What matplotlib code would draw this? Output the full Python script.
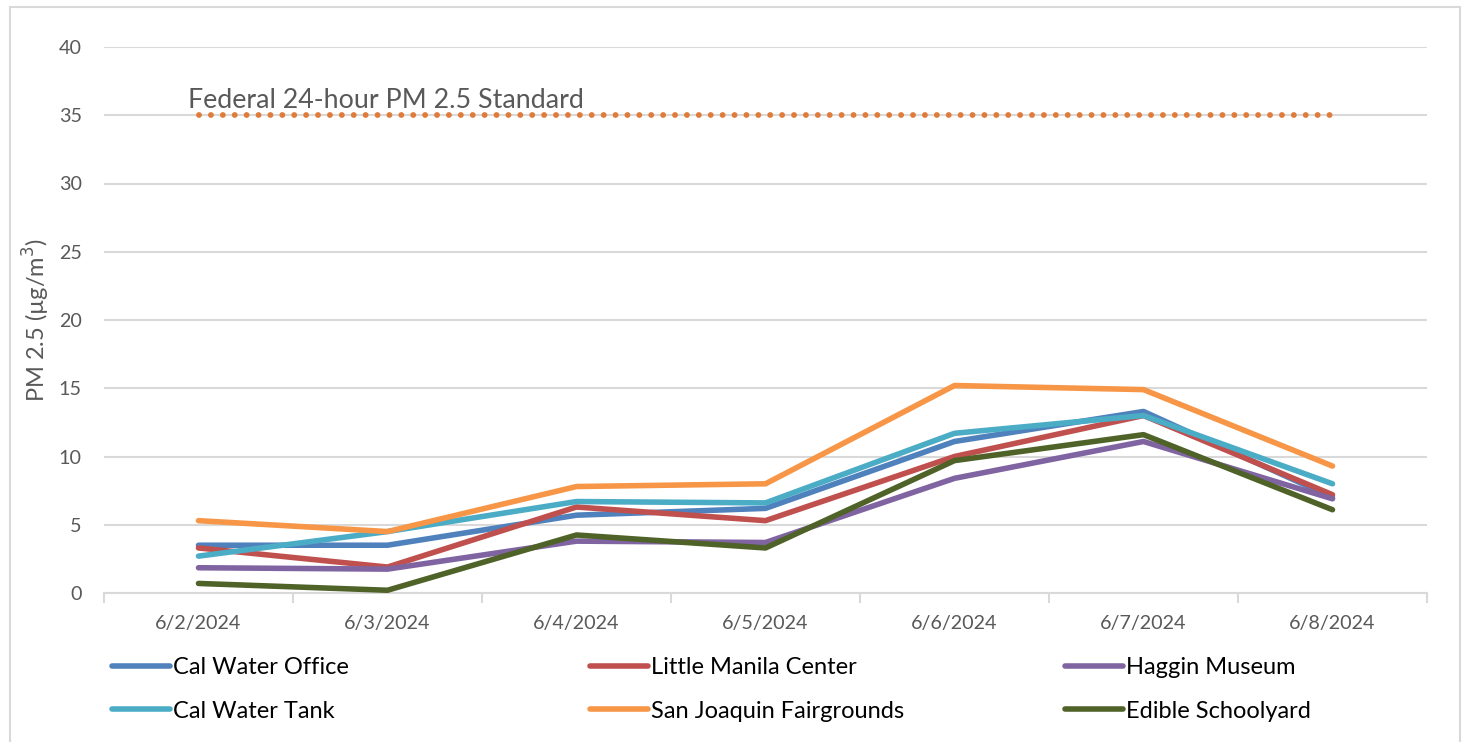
import numpy as np
import matplotlib
matplotlib.use("Agg")
import matplotlib.pyplot as plt
from matplotlib.patches import Rectangle

plt.rcParams["font.family"] = ["Lato", "DejaVu Sans"]

# data
dates = ["6/2/2024", "6/3/2024", "6/4/2024", "6/5/2024", "6/6/2024", "6/7/2024", "6/8/2024"]
cal_water_office = [3.5, 3.5, 5.7, 6.2, 11.1, 13.3, 7.0]
little_manila = [3.3, 1.9, 6.3, 5.3, 10.0, 13.0, 7.2]
haggin_museum = [1.85, 1.75, 3.8, 3.7, 8.4, 11.1, 6.9]
cal_water_tank = [2.7, 4.5, 6.7, 6.6, 11.7, 13.0, 8.0]
san_joaquin = [5.3, 4.5, 7.8, 8.0, 15.2, 14.9, 9.3]
edible_schoolyard = [0.7, 0.2, 4.25, 3.3, 9.7, 11.6, 6.1]
standard = [35, 35, 35, 35, 35, 35, 35]

names = ["Cal Water Office", "Little Manila Center", "Haggin Museum",
         "Cal Water Tank", "San Joaquin Fairgrounds", "Edible Schoolyard"]
series = [cal_water_office, little_manila, haggin_museum,
          cal_water_tank, san_joaquin, edible_schoolyard]
colours = ["#4F81BD", "#C0504D", "#8064A2", "#4BACC6", "#F79646", "#4F6228"]

grey = "#595959"
fig = plt.figure(figsize=(14.63, 7.42), dpi=100)
fig.patches.append(Rectangle((10 / 1463, -0.05), 1450 / 1463, 1.05 - 7 / 742,
                             transform=fig.transFigure, fill=False,
                             edgecolor="#D9D9D9", lw=1.5))
ax = fig.add_axes([104 / 1463, 1 - 593 / 742, 1323 / 1463, 546 / 742])

x = np.arange(len(dates))
handles = []
for vals, name, c in zip(series, names, colours):
    h, = ax.plot(x, vals, color=c, lw=4, solid_capstyle="round",
                 solid_joinstyle="round", label=name, zorder=3)
    handles.append(h)

ax.plot(x, standard, color="#E07B39", lw=4.2, linestyle=(0, (0.01, 2.03)),
        dash_capstyle="round", zorder=3)
ax.text(-0.056, 35.55, "Federal 24-hour PM 2.5 Standard", color=grey,
        fontsize=19.3, va="baseline", ha="left")

ax.set_xlim(-0.5, len(dates) - 0.5)
ax.set_ylim(0, 40)
ax.set_yticks(np.arange(0, 41, 5))
ax.grid(axis="y", color="#D9D9D9", lw=1.5)
ax.set_axisbelow(True)
for s in ["top", "right", "left"]:
    ax.spines[s].set_visible(False)
ax.spines["bottom"].set_color("#D9D9D9")
ax.spines["bottom"].set_linewidth(1.5)

ax.set_xticks(x)
ax.set_xticklabels(dates)
ax.set_xticks(np.arange(-0.5, len(dates)), minor=True)
ax.tick_params(axis="x", which="major", length=0, pad=16, labelsize=14.2, labelcolor=grey)
ax.tick_params(axis="x", which="minor", length=7, width=1.5, color="#D9D9D9")
ax.tick_params(axis="y", length=0, pad=16, labelsize=14.2, labelcolor=grey)

ax.set_ylabel("PM 2.5 (µg/m$^3$)", color=grey, fontsize=17)
ax.yaxis.set_label_coords(-(104 - 52) / 1323, (593 - 320) / 546)

# legend: three columns placed separately like the original
col_x = [112, 590, 1065]
for i, cx in enumerate(col_x):
    fig.legend([handles[i], handles[i + 3]], [names[i], names[i + 3]],
               loc="upper left", bbox_to_anchor=(cx / 1463, 1 - 657 / 742),
               frameon=False, fontsize=17, handlelength=2.45, handletextpad=0.12,
               labelspacing=0.96, borderaxespad=0, borderpad=0)

fig.savefig("out.png", dpi=100)
